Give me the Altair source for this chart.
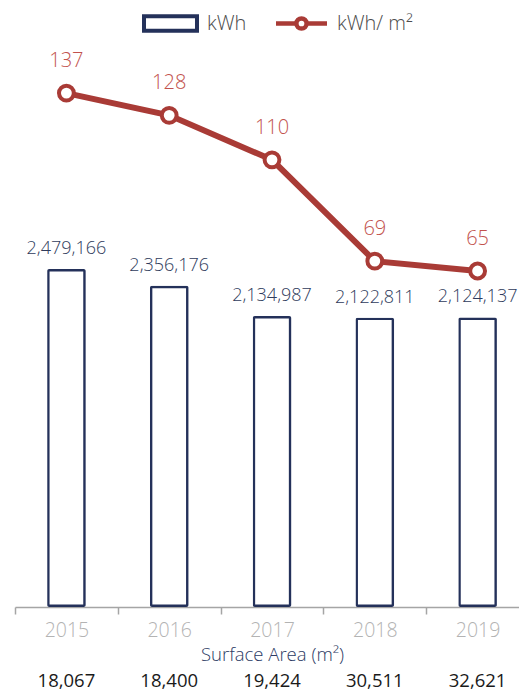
import altair as alt
import pandas as pd

years = ["2015", "2016", "2017", "2018", "2019"]
kwh = [2479166, 2356176, 2134987, 2122811, 2124137]
kwh_m2 = [137, 128, 110, 69, 65]
surface = [18067, 18400, 19424, 30511, 32621]
series_names = ["kWh", "kWh/ m²"]

df = pd.DataFrame({"year": years, "kwh": kwh, "kwh_m2": kwh_m2, "surface": surface})
df["s_bar"] = series_names[0]
df["s_line"] = series_names[1]

NAVY = "#24315a"
RED = "#a93b36"
RED_LABEL = "#c2524d"
FONT = "Open Sans"
FW = 300

# legend glyphs, drawn in units of the symbol radius
BAR_PATH = "M-2,-0.54H2V0.54H-2Z"
LINE_PATH = ("M-1.925,0H-0.385M0.385,0H1.925"
             "M0.385,0A0.385,0.385 0 1 1 -0.385,0A0.385,0.385 0 1 1 0.385,0Z")

x = alt.X(
    "year:N",
    sort=years,
    scale=alt.Scale(range=[0, 514], paddingInner=0, paddingOuter=0),
    axis=alt.Axis(
        title="Surface Area (m²)",
        labelAngle=0,
        tickBand="extent",
        domainColor="#a5a5a5",
        domainWidth=1.5,
        tickColor="#a5a5a5",
        tickWidth=1.5,
        tickSize=7,
        labelColor="#b3b3b3",
        labelFontSize=19.5,
        labelFont=FONT,
        labelFontWeight=FW,
        labelPadding=7,
        titleColor="#2c3b64",
        titleFontSize=18.5,
        titleFont=FONT,
        titleFontWeight=FW,
        titlePadding=6,
        grid=False,
    ),
)

ybar = alt.Y("kwh:Q", scale=alt.Scale(domain=[0, 4160000]), axis=None)
yline = alt.Y("kwh_m2:Q", scale=alt.Scale(domain=[-71, 158.5]), axis=None)

base = alt.Chart(df)

bars = base.mark_bar(
    fill="white", strokeWidth=4.8, size=38.5, cornerRadius=2
).encode(
    x=x,
    y=ybar,
    strokeWidth=alt.value(4.8),
    stroke=alt.Stroke(
        "s_bar:N",
        scale=alt.Scale(domain=[series_names[0]], range=[NAVY]),
        legend=alt.Legend(
            title=None,
            orient="none",
            legendX=140,
            legendY=-32,
            padding=0,
            symbolType=BAR_PATH,
            symbolSize=702,
            symbolStrokeWidth=4,
            symbolFillColor="white",
            labelFontSize=20,
            labelFont=FONT,
            labelFontWeight=FW,
            labelColor="#4d4d4d",
            labelOffset=21,
        ),
    ),
)

bar_text = base.mark_text(
    dy=-15, baseline="alphabetic", fontSize=18, font=FONT, fontWeight=FW, color="#2f3b5c"
).encode(x=x, y=ybar, text=alt.Text("kwh:Q", format=","))

line = base.mark_line(strokeWidth=6).encode(
    x=x,
    y=yline,
    color=alt.Color(
        "s_line:N",
        scale=alt.Scale(domain=[series_names[1]], range=[RED]),
        legend=alt.Legend(
            title=None,
            orient="none",
            legendX=271,
            legendY=-32,
            padding=0,
            symbolType=LINE_PATH,
            symbolSize=702,
            symbolStrokeWidth=4.5,
            symbolFillColor="white",
            labelFontSize=20,
            labelFont=FONT,
            labelFontWeight=FW,
            labelColor="#4d4d4d",
            labelOffset=20,
        ),
    ),
)

points = base.mark_point(
    shape="circle", filled=True, fill="white", stroke=RED, strokeWidth=4, size=220, opacity=1
).encode(x=x, y=yline)

line_text = base.mark_text(
    dy=-26, baseline="alphabetic", fontSize=20, font=FONT, fontWeight=FW, color=RED_LABEL
).encode(x=x, y=yline, text=alt.Text("kwh_m2:Q"))

surface_text = base.mark_text(
    baseline="alphabetic", fontSize=18.5, font=FONT, color="#1a1a1a"
).encode(x=x, y=alt.value(647), text=alt.Text("surface:Q", format=","))

bar_layer = alt.layer(bars, bar_text)
line_layer = alt.layer(line, points, line_text)

chart = (
    alt.layer(bar_layer, line_layer, surface_text)
    .resolve_scale(y="independent", color="independent", stroke="independent")
    .properties(
        width=504,
        height=567,
        autosize=alt.AutoSizeParams(type="none"),
        padding={"left": 7, "top": 32, "right": 0, "bottom": 85},
    )
    .configure_view(stroke=None)
)

chart.save("out.html", embed_options={"renderer": "svg", "actions": False})
